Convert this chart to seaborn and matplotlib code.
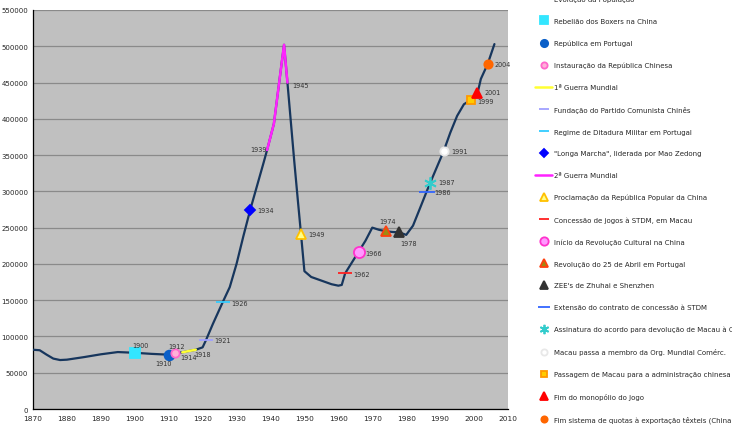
import matplotlib
matplotlib.use("Agg")
import matplotlib.pyplot as plt
import seaborn as sns

# população de Macau
years = [1870, 1872, 1874, 1876, 1878, 1880, 1885, 1890, 1895, 1900, 1905,
         1910, 1912, 1914, 1916, 1918, 1920, 1921, 1923, 1926, 1928, 1930,
         1932, 1934, 1936, 1938, 1939, 1941, 1943, 1944, 1945, 1947, 1948,
         1949, 1950, 1952, 1955, 1958, 1960, 1961, 1962, 1966, 1968, 1970,
         1972, 1974, 1976, 1978, 1980, 1982, 1984, 1986, 1987, 1991, 1993,
         1995, 1997, 1999, 2001, 2002, 2004, 2006]
population = [81700, 81000, 75000, 69500, 67500, 68000, 71500, 75400, 78500,
              77500, 76000, 74900, 77200, 78100, 80000, 81700, 85000, 95000,
              117000, 148000, 168000, 200000, 238000, 274000, 307000, 340000,
              357000, 393000, 466000, 502000, 450000, 342000, 291000, 241000,
              190000, 182000, 177000, 172000, 170000, 171000, 187000, 217000,
              232000, 250000, 247000, 245000, 244000, 243500, 240000, 252700,
              276000, 299500, 311000, 355000, 381000, 404000, 420000, 426000,
              435000, 455000, 475500, 503000]
pop_at = dict(zip(years, population))

war1_years = [1914, 1916, 1918]
war2_years = [1939, 1941, 1943, 1944, 1945]

event_labels = ["Rebelião dos Boxers na China",
                "República em Portugal",
                "Instauração da República Chinesa",
                "Fundação do Partido Comunista Chinês",
                "Regime de Ditadura Militar em Portugal",
                "\"Longa Marcha\", liderada por Mao Zedong",
                "Proclamação da República Popular da China",
                "Concessão de jogos à STDM, em Macau",
                "Início da Revolução Cultural na China",
                "Revolução do 25 de Abril em Portugal",
                "ZEE's de Zhuhai e Shenzhen",
                "Extensão do contrato de concessão à STDM",
                "Assinatura do acordo para devolução de Macau à China",
                "Macau passa a membro da Org. Mundial Comérc.",
                "Passagem de Macau para a administração chinesa",
                "Fim do monopólio do Jogo",
                "Fim sistema de quotas à exportação têxteis (China)"]
event_years = [1900, 1910, 1912, 1921, 1926, 1934, 1949, 1962, 1966, 1974,
               1978, 1986, 1987, 1991, 1999, 2001, 2004]

# estilo de cada marcador: (marker, size, face, edge)
event_styles = [("s", 7, "#33E6FF", "#33E6FF"),
                ("o", 7, "#0A5FC8", "#0A5FC8"),
                ("o", 6, "#FFB0D8", "#FF66CC"),
                ("_", 10, "#A0A0FF", "#A0A0FF"),
                ("_", 10, "#33CCFF", "#33CCFF"),
                ("D", 5, "#0000FF", "#0000FF"),
                ("^", 7, "#FFFF88", "#FFC000"),
                ("_", 10, "#FF2020", "#FF2020"),
                ("o", 8, "#FF99FF", "#FF33CC"),
                ("^", 7, "#A08A10", "#FF4010"),
                ("^", 7, "#333333", "#333333"),
                ("_", 11, "#3366FF", "#3366FF"),
                ((6, 2, 0), 9, "#33CCCC", "#33CCCC"),
                ("o", 6, "#FFFFFF", "#E8E8E8"),
                ("s", 6, "#FFCC00", "#FF9900"),
                ("^", 7, "#FF0000", "#FF0000"),
                ("o", 6, "#FF6600", "#FF6600")]

# posição dos rótulos de ano (offset em pixels, alinhamento)
label_pos = {1900: (-2, 8, "left"), 1910: (3, -8, "right"),
             1912: (1, 7, "center"), 1914: (-2, -5, "left"),
             1918: (-2, -4, "left"), 1921: (8, 0, "left"),
             1926: (8, -1, "left"), 1934: (7, 0, "left"),
             1939: (0, 1, "right"), 1945: (5, -2, "left"),
             1949: (7, 0, "left"), 1962: (8, -1, "left"),
             1966: (7, -1, "left"), 1974: (2, 10, "center"),
             1978: (1, -11, "left"), 1986: (8, 0, "left"),
             1987: (8, 1, "left"), 1991: (8, 0, "left"),
             1999: (7, -1, "left"), 2001: (7, 1, "left"),
             2004: (7, 0, "left")}

sns.set_style("white")
plt.rcParams["font.family"] = ["DejaVu Sans"]

fig = plt.figure(figsize=(7.32, 4.31), dpi=100)
ax = fig.add_axes([0.045, 0.0487, 0.649, 0.9258])
ax.set_facecolor("#C0C0C0")

handles = {}
sns.lineplot(x=years, y=population, ax=ax, color="#17365D", linewidth=1.6,
             label="Evolução da População", zorder=3)
handles["Evolução da População"] = ax.get_lines()[-1]

war_colors = {"1ª Guerra Mundial": "#FFFF33", "2ª Guerra Mundial": "#FF22FF"}
for lab, wy in [("1ª Guerra Mundial", war1_years), ("2ª Guerra Mundial", war2_years)]:
    sns.lineplot(x=wy, y=[pop_at[y] for y in wy], ax=ax, color=war_colors[lab],
                 linewidth=1.8, label=lab, zorder=4)
    handles[lab] = ax.get_lines()[-1]

for lab, yr, (mk, ms, fc, ec) in zip(event_labels, event_years, event_styles):
    h, = ax.plot([yr], [pop_at[yr]], linestyle="none", marker=mk, markersize=ms,
                 markerfacecolor=fc, markeredgecolor=ec, markeredgewidth=1.3,
                 label=lab, zorder=5)
    handles[lab] = h

for yr, (dx, dy, ha) in label_pos.items():
    ax.annotate(str(yr), (yr, pop_at[yr]), xytext=(dx, dy),
                textcoords="offset pixels", ha=ha, va="center",
                fontsize=4.7, color="#333333", zorder=6)

ax.set_xlim(1870, 2010)
ax.set_ylim(0, 550000)
ax.set_xticks(range(1870, 2011, 10))
ax.set_yticks(range(0, 550001, 50000))
ax.set_yticklabels([str(v) for v in range(0, 550001, 50000)])
ax.tick_params(axis="x", labelsize=5.3, length=3, width=0.8, color="black",
               pad=1.5, direction="out")
ax.tick_params(axis="y", labelsize=5.0, length=2.5, width=0.8, color="black",
               pad=1, direction="out")
ax.yaxis.grid(True, color="#8A8A8A", linewidth=0.9)
ax.set_axisbelow(True)
for s in ["top", "right"]:
    ax.spines[s].set_visible(False)
for s in ["left", "bottom"]:
    ax.spines[s].set_color("black")
    ax.spines[s].set_linewidth(0.9)

order = ["Evolução da População"] + event_labels[:3] + ["1ª Guerra Mundial"] \
    + event_labels[3:6] + ["2ª Guerra Mundial"] + event_labels[6:]
ax.get_legend().remove()
fig.legend([handles[k] for k in order], order, loc="upper left",
           bbox_to_anchor=(0.7309, 1.007), frameon=False, fontsize=5,
           handlelength=2.45, handletextpad=0.3, labelspacing=2.27,
           borderpad=0, borderaxespad=0, markerscale=0.75)

fig.savefig("out.png", dpi=100)
